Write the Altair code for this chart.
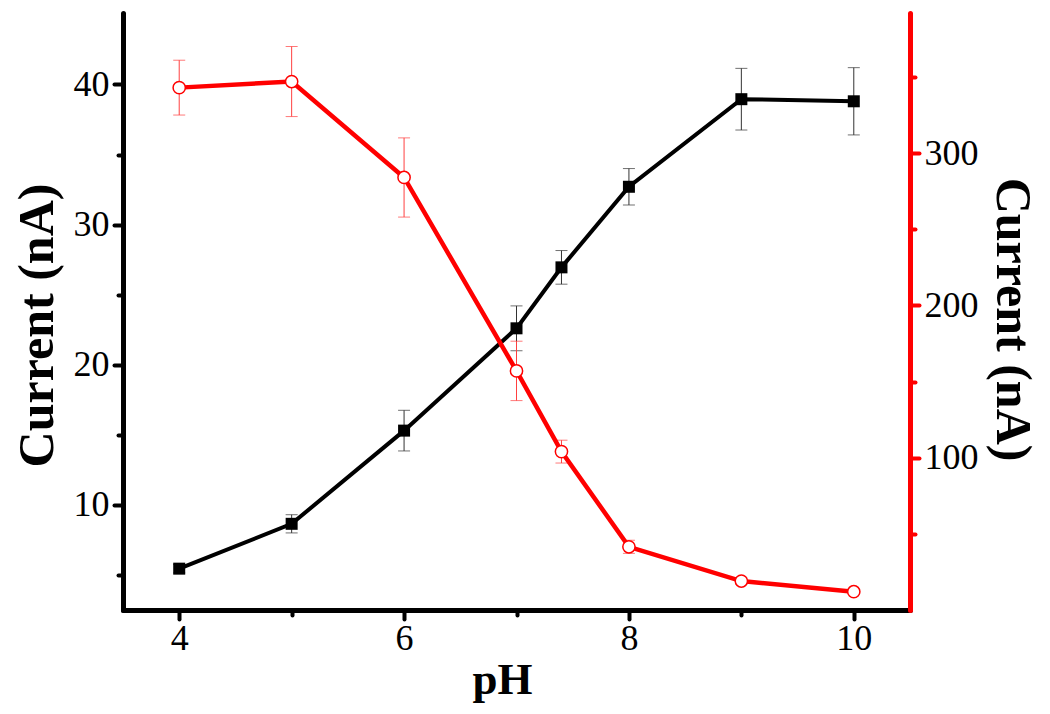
import altair as alt
import pandas as pd

# ---- data ----
ph = [4, 5, 6, 7, 7.4, 8, 9, 10]
black_current = [5.45, 8.65, 15.3, 22.6, 26.95, 32.7, 38.95, 38.8]
black_err = [0.3, 0.65, 1.45, 1.6, 1.2, 1.3, 2.2, 2.4]
red_current = [343, 347, 284, 157, 104, 41.5, 19, 12]
red_err = [18, 23, 26, 19.5, 7.5, 4.3, 2.0, 1.5]

x_major = [4, 6, 8, 10]
x_minor = [5, 7, 9]
yl_major = [10, 20, 30, 40]
yl_minor = [5, 15, 25, 35]
yr_major = [100, 200, 300]
yr_minor = [50, 150, 250, 350]

black = pd.DataFrame({"pH": ph, "cur": black_current, "err": black_err})
black["lo"] = black["cur"] - black["err"]
black["hi"] = black["cur"] + black["err"]
red = pd.DataFrame({"pH": ph, "cur": red_current, "err": red_err})
red["lo"] = red["cur"] - red["err"]
red["hi"] = red["cur"] + red["err"]

FONT = "Liberation Serif"
xscale = alt.Scale(domain=[3.5, 10.5], nice=False, zero=False)
lscale = alt.Scale(domain=[2.5, 45.1], nice=False, zero=False)
rscale = alt.Scale(domain=[0, 392], nice=False, zero=False)

def X(axis=None):
    if axis is None:
        return alt.X("pH:Q", scale=xscale, axis=None)
    return alt.X("pH:Q", scale=xscale, axis=axis)

def Y(field, scale, axis=None):
    if axis is None:
        return alt.Y(field, type="quantitative", scale=scale, axis=None)
    return alt.Y(field, type="quantitative", scale=scale, axis=axis)

x_axis_major = alt.Axis(
    orient="bottom", values=x_major, grid=False, domainColor="black", domainWidth=5,
    domainCap="round", tickColor="black", tickWidth=4, tickSize=9, tickCap="round",
    labelFont=FONT, labelFontSize=36, labelColor="black", labelPadding=2,
    title="pH", titleFont=FONT, titleFontSize=45, titleFontWeight="bold",
    titleColor="black", titleX=379, titleY=83, titleBaseline="alphabetic",
)
x_axis_minor = alt.Axis(
    orient="bottom", values=x_minor, grid=False, domain=False, labels=False,
    tickColor="black", tickWidth=4, tickSize=5, tickCap="round", title="",
)
yl_axis_major = alt.Axis(
    orient="left", values=yl_major, grid=False, domainColor="black", domainWidth=5,
    domainCap="round", tickColor="black", tickWidth=4, tickSize=9, tickCap="round",
    labelFont=FONT, labelFontSize=36, labelColor="black", labelPadding=5,
    title="Current (nA)", titleFont=FONT, titleFontSize=50, titleFontWeight="bold",
    titleColor="black", titleAngle=270, titleX=-86, titleY=312, titleBaseline="middle",
)
yl_axis_minor = alt.Axis(
    orient="left", values=yl_minor, grid=False, domain=False, labels=False,
    tickColor="black", tickWidth=4, tickSize=5, tickCap="round", title="",
)
yr_axis_major = alt.Axis(
    orient="right", values=yr_major, grid=False, domainColor="#ff0000", domainWidth=5,
    domainCap="round", tickColor="#ff0000", tickWidth=4, tickSize=9, tickCap="round",
    labelFont=FONT, labelFontSize=36, labelColor="black", labelPadding=5,
    title="Current (nA)", titleFont=FONT, titleFontSize=50, titleFontWeight="bold",
    titleColor="black", titleAngle=90, titleX=101, titleY=306, titleBaseline="middle",
)
yr_axis_minor = alt.Axis(
    orient="right", values=yr_minor, grid=False, domain=False, labels=False,
    tickColor="#ff0000", tickWidth=4, tickSize=5, tickCap="round", title="",
)

# ---- black series (left axis) ----
b_base = alt.Chart(black)
b_err = b_base.mark_rule(color="#333333", strokeWidth=1).encode(
    x=X(), y=Y("lo", lscale), y2="hi")
b_cap_lo = b_base.mark_tick(orient="horizontal", size=12, thickness=1, color="#333333").encode(
    x=X(), y=Y("lo", lscale))
b_cap_hi = b_base.mark_tick(orient="horizontal", size=12, thickness=1, color="#333333").encode(
    x=X(), y=Y("hi", lscale))
b_line = b_base.mark_line(color="black", strokeWidth=4).encode(
    x=X(x_axis_major), y=Y("cur", lscale, yl_axis_major))
b_pts = b_base.mark_point(shape="square", filled=True, size=144, color="black", opacity=1).encode(
    x=X(x_axis_minor), y=Y("cur", lscale, yl_axis_minor))

# ---- red series (right axis) ----
r_base = alt.Chart(red)
r_err = r_base.mark_rule(color="#ff4040", strokeWidth=1).encode(
    x=X(), y=Y("lo", rscale), y2="hi")
r_cap_lo = r_base.mark_tick(orient="horizontal", size=12, thickness=1, color="#ff4040").encode(
    x=X(), y=Y("lo", rscale))
r_cap_hi = r_base.mark_tick(orient="horizontal", size=12, thickness=1, color="#ff4040").encode(
    x=X(), y=Y("hi", rscale))
r_line = r_base.mark_line(color="#ff0000", strokeWidth=4.5).encode(
    x=X(), y=Y("cur", rscale, yr_axis_major))
r_pts = r_base.mark_point(shape="circle", filled=False, size=150, fill="white", fillOpacity=1,
                          stroke="#ff0000", strokeWidth=1.5, opacity=1).encode(
    x=X(), y=Y("cur", rscale, yr_axis_minor))

chart = alt.layer(
    b_err, b_cap_lo, b_cap_hi, b_line, b_pts,
    r_err, r_cap_lo, r_cap_hi, r_line, r_pts,
).resolve_scale(
    x="independent", y="independent"
).properties(
    width=787, height=597,
    background="white",
    padding={"left": 115, "top": 5, "right": 130, "bottom": 95},
    autosize=alt.AutoSizeParams(type="none"),
).configure_view(
    stroke="transparent", strokeWidth=0
)

chart.save("out.html", embed_options={"renderer": "svg", "actions": False})
